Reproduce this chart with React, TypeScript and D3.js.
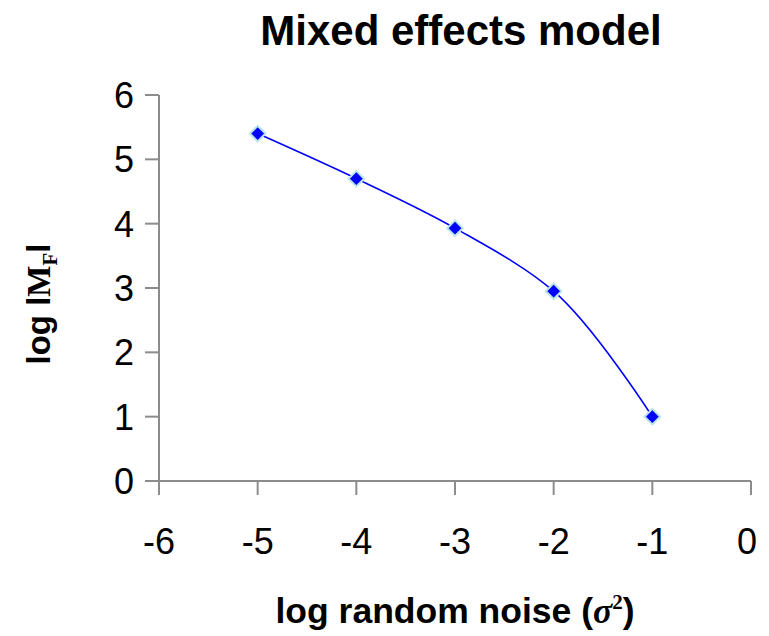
import React from "react";
import * as d3 from "d3";

const noiseLevels = [-5, -4, -3, -2, -1];
const logMF = [5.4, 4.7, 3.93, 2.95, 1.0];
const xTicks = [-6, -5, -4, -3, -2, -1, 0];
const yTicks = [0, 1, 2, 3, 4, 5, 6];

const W = 769;
const H = 636;
const sans = "'Liberation Sans', Arial, sans-serif";
const serif = "'Liberation Serif', 'Times New Roman', serif";

export default function App() {
  const x = d3.scaleLinear().domain([-6, 0]).range([159, 751]);
  const y = d3.scaleLinear().domain([0, 6]).range([481, 95]);
  const pts: [number, number][] = noiseLevels.map((v, i) => [x(v), y(logMF[i])]);
  const line = d3.line().curve(d3.curveCatmullRom.alpha(1))(pts) || "";
  const axisColor = "#8c8c8c";

  return (
    <svg width={W} height={H} style={{ position: "absolute", left: 0, top: 0, background: "#fff" }}>
      <text x={461} y={45} textAnchor="middle" fontFamily={sans} fontWeight="bold" fontSize={42}>
        Mixed effects model
      </text>

      {/* y axis */}
      <line x1={x(-6)} x2={x(-6)} y1={y(6)} y2={y(0) + 14} stroke={axisColor} strokeWidth={2} />
      {yTicks.map((t) => (
        <g key={"y" + t}>
          <line x1={x(-6) - 14} x2={x(-6)} y1={y(t)} y2={y(t)} stroke={axisColor} strokeWidth={2} />
          <text x={134} y={y(t) + 13} textAnchor="end" fontFamily={sans} fontSize={36}>
            {t}
          </text>
        </g>
      ))}

      {/* x axis */}
      <line x1={x(-6) - 14} x2={x(0)} y1={y(0)} y2={y(0)} stroke={axisColor} strokeWidth={2} />
      {xTicks.map((t) => (
        <g key={"x" + t}>
          <line x1={x(t)} x2={x(t)} y1={y(0)} y2={y(0) + 14} stroke={axisColor} strokeWidth={2} />
          <text x={x(t) - (t < 0 ? 0 : 4)} y={554} textAnchor="middle" fontFamily={sans} fontSize={36}>
            {t === 0 ? "0" : "-" + Math.abs(t)}
          </text>
        </g>
      ))}

      <path d={line} fill="none" stroke="#0000ff" strokeWidth={1.6} />
      {pts.map(([px, py], i) => (
        <rect
          key={i}
          x={px - 5.5}
          y={py - 5.5}
          width={11}
          height={11}
          transform={`rotate(45 ${px} ${py})`}
          fill="#0000ff"
          stroke="#b8e4ea"
          strokeWidth={2}
        />
      ))}

      {/* axis titles */}
      <text x={455} y={623} textAnchor="middle" fontFamily={sans} fontWeight="bold" fontSize={35.5}>
        log random noise (
        <tspan fontFamily={serif} fontStyle="italic">σ</tspan>
        <tspan fontFamily={serif} fontSize={21} dy={-14}>2</tspan>
        <tspan dy={14}>)</tspan>
      </text>
      <text
        transform="translate(50,304) rotate(-90)"
        textAnchor="middle"
        fontFamily={sans}
        fontWeight="bold"
        fontSize={33}
      >
        log l
        <tspan fontFamily={serif}>M</tspan>
        <tspan fontFamily={serif} fontSize={21} dy={7}>F</tspan>
        <tspan dy={-7}>l</tspan>
      </text>
    </svg>
  );
}
